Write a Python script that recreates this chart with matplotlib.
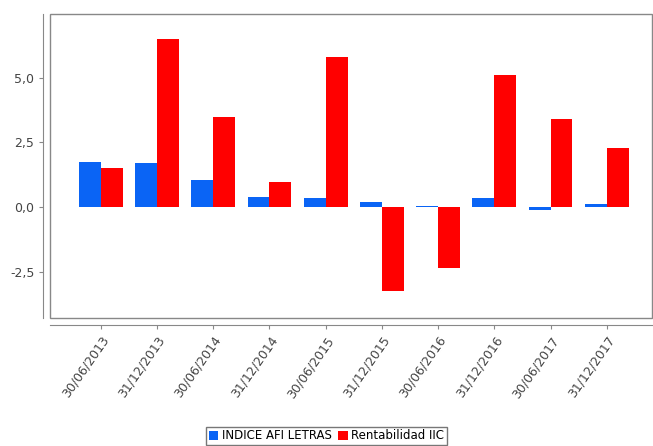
import numpy as np
import matplotlib.pyplot as plt
from matplotlib.patches import Rectangle

fechas = ["30/06/2013", "31/12/2013", "30/06/2014", "31/12/2014", "30/06/2015",
          "31/12/2015", "30/06/2016", "31/12/2016", "30/06/2017", "31/12/2017"]
indice_afi = [1.75, 1.7, 1.05, 0.4, 0.35, 0.2, 0.05, 0.35, -0.1, 0.1]
rentabilidad = [1.5, 6.5, 3.5, 0.95, 5.8, -3.25, -2.35, 5.1, 3.4, 2.3]

fig = plt.figure(figsize=(6.53, 4.46), dpi=100)
ax = fig.add_axes([0.077, 0.287, 0.921, 0.682])

x = np.arange(len(fechas))
w = 0.39
ax.bar(x - w / 2, indice_afi, w, color="#0a64f5", label="INDICE AFI LETRAS")
ax.bar(x + w / 2, rentabilidad, w, color="#ff0000", label="Rentabilidad IIC")

ax.set_xlim(-0.9, 9.8)
ax.set_ylim(-4.3, 7.48)

for s in ["top", "right"]:
    ax.spines[s].set_visible(False)
for s in ["left", "bottom"]:
    ax.spines[s].set_position(("outward", 5))
    ax.spines[s].set_color("#888888")
ax.tick_params(color="#888888", labelcolor="#444444", length=3, labelsize=9)
ax.add_patch(Rectangle((0, 0), 1, 1, transform=ax.transAxes, fill=False,
                       edgecolor="#888888", linewidth=1, clip_on=False))

ax.set_yticks([-2.5, 0, 2.5, 5.0])
ax.set_yticklabels(["-2,5", "0,0", "2,5", "5,0"])
ax.set_xticks(x)
ax.set_xticklabels(fechas)
plt.setp(ax.get_xticklabels(), rotation=55, ha="right", rotation_mode="anchor")

fig.legend(loc="lower center", bbox_to_anchor=(0.5, -0.01), ncol=2, fontsize=8.5,
           frameon=True, fancybox=False, edgecolor="#555555", handlelength=0.8,
           handleheight=0.8, handletextpad=0.3, columnspacing=0.6, borderpad=0.2)

fig.savefig("out.png", dpi=100)
